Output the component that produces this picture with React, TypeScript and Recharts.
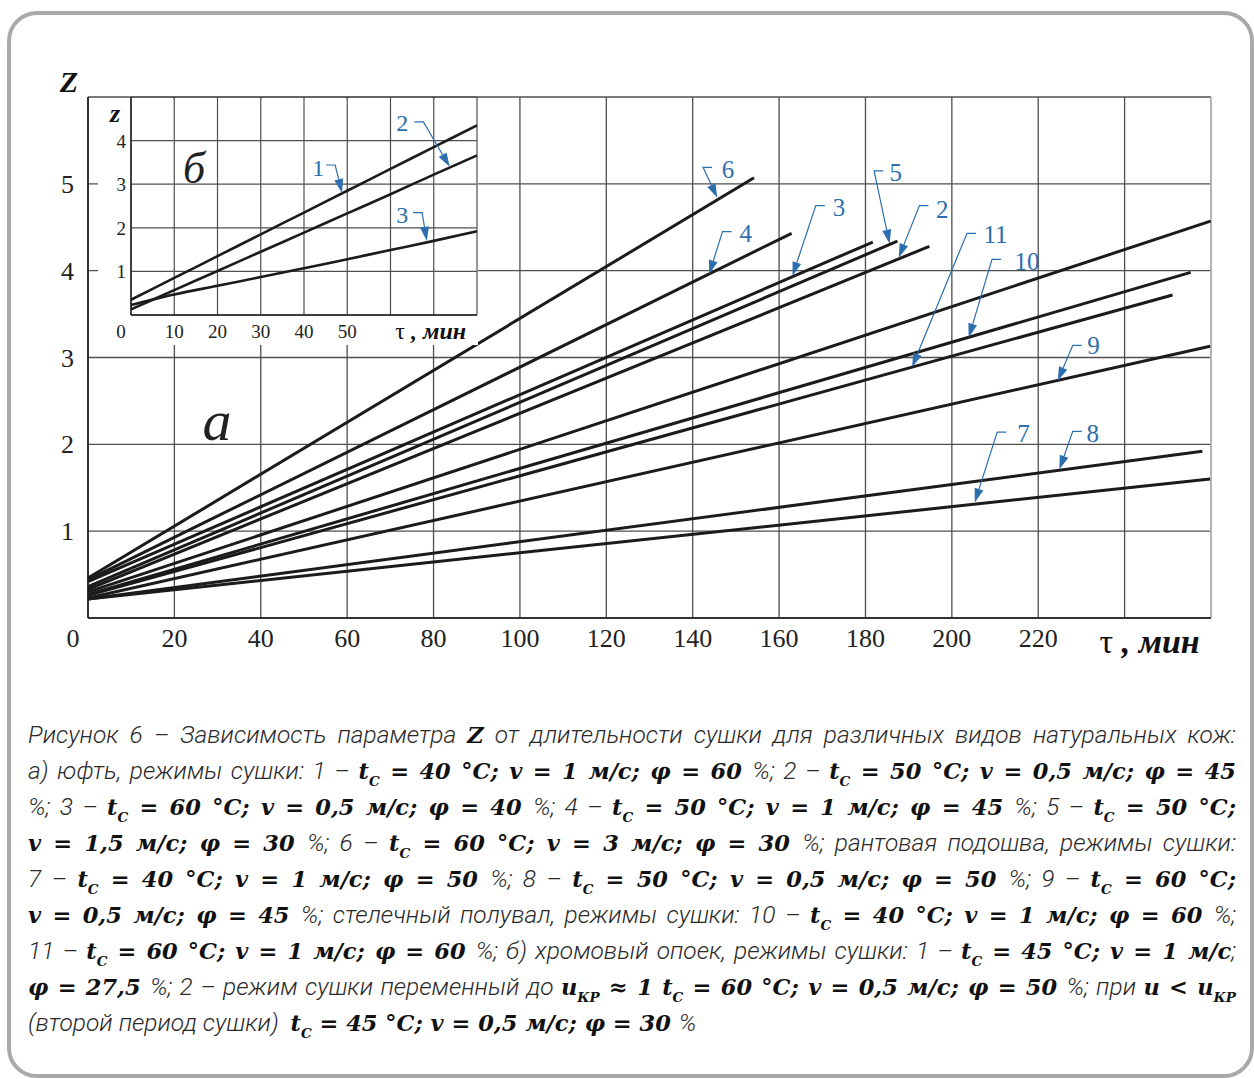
import React from 'react';
import {
  LineChart,
  Line,
  XAxis,
  YAxis,
  CartesianGrid,
  ReferenceLine,
  ReferenceDot,
} from 'recharts';

// main plot (а): drying modes 1..11, each a straight line from τ = 0
const mainNames = ['1', '2', '3', '4', '5', '6', '7', '8', '9', '10', '11'];
const mainStartZ = [0.3, 0.33, 0.42, 0.44, 0.36, 0.46, 0.22, 0.22, 0.23, 0.27, 0.26];
const mainEndTau = [259.9, 194.8, 181.7, 162.9, 187.4, 154.2, 259.8, 258.0, 259.8, 255.3, 251.1];
const mainEndZ = [4.57, 4.28, 4.33, 4.43, 4.34, 5.07, 1.6, 1.92, 3.13, 3.98, 3.72];

const mainTauTicks = [0, 20, 40, 60, 80, 100, 120, 140, 160, 180, 200, 220, 240, 260];
const mainZTicks = [0, 1, 2, 3, 4, 5, 6];

// callouts on the main plot
const mainLabels = ['6', '4', '3', '5', '2', '11', '10', '9', '7', '8'];
const mainLabelTau = [148.2, 152.3, 173.9, 187.0, 197.8, 210.1, 217.4, 232.8, 216.6, 232.6];
const mainLabelZ = [5.17, 4.43, 4.73, 5.13, 4.71, 4.42, 4.11, 3.14, 2.13, 2.13];
const mainHookTau = [142.4, 146.9, 168.5, 182.0, 192.5, 203.5, 209.3, 228.0, 210.5, 228.0];
const mainHookZ = [5.19, 4.45, 4.75, 5.15, 4.75, 4.43, 4.13, 3.14, 2.14, 2.15];
const mainTipTau = [145.7, 143.8, 163.1, 185.6, 187.7, 190.8, 203.9, 224.5, 205.3, 224.9];
const mainTipZ = [4.84, 3.96, 3.94, 4.31, 4.15, 2.89, 3.23, 2.73, 1.33, 1.71];

// inset (б): chrome calf
const insetTau = [0, 10, 20, 30, 40, 50, 60, 70, 80];
const inset1 = [0.35, 0.85, 1.35, 1.85, 2.35, 2.85, 3.35, 3.85, 4.35];
const inset2 = [0.13, 0.57, 1.01, 1.45, 1.89, 2.33, 2.77, 3.22, 3.66];
const inset3 = [0.23, 0.47, 0.67, 0.87, 1.07, 1.28, 1.49, 1.7, 1.92];
const insetTauTicks = [0, 10, 20, 30, 40, 50, 60, 70, 80];
const insetZTicks = [0, 1, 2, 3, 4, 5];

const insetLabels = ['1', '2', '3'];
const insetLabelTau = [43.3, 62.7, 62.7];
const insetLabelZ = [3.37, 4.4, 2.29];
const insetHookTau = [47.2, 67.6, 67.3];
const insetHookZ = [3.44, 4.43, 2.35];
const insetTipTau = [48.8, 73.7, 68.4];
const insetTipZ = [2.8, 3.4, 1.7];

const INK = '#1b1b1b';
const GRID = '#4f4f4f';
const BLUE = '#2d6eae';
const SERIF = "'Liberation Serif', 'Times New Roman', serif";

const mainLines = mainNames.map((name, i) => ({
  name,
  points: [
    { tau: 0, z: mainStartZ[i] },
    { tau: mainEndTau[i], z: mainEndZ[i] },
  ],
}));

const insetSeries = [inset1, inset2, inset3].map((vals) =>
  insetTau.map((tau, i) => ({ tau, z: vals[i] }))
);

const Leader = (p: any) => {
  const { x1, y1, x2, y2, dir } = p;
  const hx = x1 + dir * 9;
  const ang = Math.atan2(y2 - y1, x2 - x1);
  const len = 14;
  const half = 4.5;
  const bx = x2 - len * Math.cos(ang);
  const by = y2 - len * Math.sin(ang);
  const px = -Math.sin(ang) * half;
  const py = Math.cos(ang) * half;
  return (
    <g>
      <path d={`M${hx},${y1} L${x1},${y1} L${bx},${by}`} stroke={BLUE} strokeWidth={1.2} fill="none" />
      <polygon points={`${x2},${y2} ${bx + px},${by + py} ${bx - px},${by - py}`} fill={BLUE} />
    </g>
  );
};

const callouts = (
  labels: string[],
  lTau: number[],
  lZ: number[],
  hTau: number[],
  hZ: number[],
  tTau: number[],
  tZ: number[],
  size: number
) =>
  labels.flatMap((lab, i) => {
    const dir = lTau[i] > hTau[i] ? 1 : -1;
    return [
      <ReferenceLine
        key={'l' + lab}
        segment={[
          { x: hTau[i], y: hZ[i] },
          { x: tTau[i], y: tZ[i] },
        ]}
        shape={(p: any) => <Leader {...p} dir={dir} />}
      />,
      <ReferenceDot
        key={'t' + lab}
        x={lTau[i]}
        y={lZ[i]}
        r={0}
        shape={(p: any) => (
          <text x={p.cx} y={p.cy + size * 0.34} textAnchor="middle" fontFamily={SERIF} fontSize={size} fill={BLUE}>
            {lab}
          </text>
        )}
      />,
    ];
  });

const MainTauTick = ({ x, y, payload }: any) => {
  const v = payload.value;
  if (v === 260) return <g />;
  if (v === 240)
    return (
      <text x={x + 25} y={y + 35} textAnchor="middle" fontFamily={SERIF} fontSize={34} fill="#111">
        <tspan>τ</tspan>
        <tspan fontStyle="italic" fontWeight="bold"> , мин</tspan>
      </text>
    );
  return (
    <text x={v === 0 ? x - 15 : x} y={y + 29} textAnchor="middle" fontFamily={SERIF} fontSize={26} fill="#222">
      {v}
    </text>
  );
};

const MainZTick = ({ x, y, payload }: any) => {
  const v = payload.value;
  if (v === 0 || v === 6) return <g />;
  return (
    <text x={x - 14} y={y + 9} textAnchor="end" fontFamily={SERIF} fontSize={26} fill="#222">
      {v}
    </text>
  );
};

const InsetTauTick = ({ x, y, payload }: any) => {
  const v = payload.value;
  if (v === 60 || v === 80) return <g />;
  if (v === 70)
    return (
      <text x={x - 3} y={y + 24} textAnchor="middle" fontFamily={SERIF} fontSize={24} fill="#111">
        <tspan>τ</tspan>
        <tspan fontStyle="italic" fontWeight="bold"> , мин</tspan>
      </text>
    );
  return (
    <text x={v === 0 ? x - 10 : x} y={y + 23} textAnchor="middle" fontFamily={SERIF} fontSize={19} fill="#222">
      {v}
    </text>
  );
};

const InsetZTick = ({ x, y, payload }: any) => {
  const v = payload.value;
  if (v === 0 || v === 5) return <g />;
  return (
    <text x={x - 5} y={y + 7} textAnchor="end" fontFamily={SERIF} fontSize={19} fill="#222">
      {v}
    </text>
  );
};

const capMath: React.CSSProperties = {
  fontFamily: "'DejaVu Serif', serif",
  fontStyle: 'italic',
  fontWeight: 'bold',
  fontSize: 22.5,
  lineHeight: 1,
  color: '#111',
};
const M = ({ children }: any) => <span style={capMath}>{children}</span>;
const Sub = ({ children }: any) => (
  <span style={{ fontSize: '0.6em', position: 'relative', top: '0.5em', lineHeight: 1 }}>{children}</span>
);
const T = () => (
  <>
    t<Sub>C</Sub>
  </>
);

const captionLines = [
  <>
    Рисунок 6 – Зависимость параметра <M>Z</M> от длительности сушки для различных видов натуральных кож:
  </>,
  <>
    а) юфть, режимы сушки: 1 – <M><T /> = 40 °C; v = 1 м/с; φ = 60 </M>%; 2 – <M><T /> = 50 °C; v = 0,5 м/с; φ = 45</M>
  </>,
  <>
    %; 3 – <M><T /> = 60 °C; v = 0,5 м/с; φ = 40 </M>%; 4 – <M><T /> = 50 °C; v = 1 м/с; φ = 45 </M>%; 5 – <M><T /> = 50 °C;</M>
  </>,
  <>
    <M>v = 1,5 м/с; φ = 30 </M>%; 6 – <M><T /> = 60 °C; v = 3 м/с; φ = 30 </M>%; рантовая подошва, режимы сушки:
  </>,
  <>
    7 – <M><T /> = 40 °C; v = 1 м/с; φ = 50 </M>%; 8 – <M><T /> = 50 °C; v = 0,5 м/с; φ = 50 </M>%; 9 – <M><T /> = 60 °C;</M>
  </>,
  <>
    <M>v = 0,5 м/с; φ = 45 </M>%; стелечный полувал, режимы сушки: 10 – <M><T /> = 40 °C; v = 1 м/с; φ = 60 </M>%;
  </>,
  <>
    11 – <M><T /> = 60 °C; v = 1 м/с; φ = 60 </M>%; б) хромовый опоек, режимы сушки: 1 – <M><T /> = 45 °C; v = 1 м/с</M>;
  </>,
  <>
    <M>φ = 27,5 </M>%; 2 – режим сушки переменный до <M>u<Sub>КР</Sub> ≈ 1 <T /> = 60 °C; v = 0,5 м/с; φ = 50 </M>%; при <M>u &lt; u<Sub>КР</Sub></M>
  </>,
  <>
    (второй период сушки)&nbsp; <M><T /> = 45 °C; v = 0,5 м/с; φ = 30 </M>%
  </>,
];

export default function App() {
  return (
    <div style={{ position: 'absolute', left: 0, top: 0, width: 1254, height: 1079, overflow: 'hidden', background: '#fff' }}>
      {/* frame */}
      <div
        style={{
          position: 'absolute',
          left: 7,
          top: 11,
          width: 1239,
          height: 1059,
          border: '4px solid #a9a9a9',
          borderRadius: 30,
        }}
      />

      {/* main chart */}
      <div style={{ position: 'absolute', left: 0, top: 0, zIndex: 1 }}>
        <LineChart width={1254} height={700} margin={{ top: 97, right: 43, bottom: 42, left: 48 }}>
          <CartesianGrid stroke={GRID} strokeWidth={1.3} />
          <XAxis
            type="number"
            dataKey="tau"
            domain={[0, 260]}
            ticks={mainTauTicks}
            interval={0}
            height={40}
            tickSize={0}
            tickMargin={0}
            axisLine={{ stroke: INK, strokeWidth: 1.6 }}
            tick={(p: any) => <MainTauTick {...p} />}
          />
          <YAxis
            type="number"
            dataKey="z"
            domain={[0, 6]}
            ticks={mainZTicks}
            interval={0}
            width={40}
            tickSize={0}
            tickMargin={0}
            axisLine={{ stroke: INK, strokeWidth: 1.6 }}
            tick={(p: any) => <MainZTick {...p} />}
          />
          <ReferenceLine x={260} stroke="#b4b4b4" strokeWidth={2} />
          {mainLines.map((l) => (
            <Line
              key={l.name}
              name={l.name}
              data={l.points}
              dataKey="z"
              type="linear"
              stroke={INK}
              strokeWidth={3}
              dot={false}
              activeDot={false}
              isAnimationActive={false}
            />
          ))}
          {callouts(mainLabels, mainLabelTau, mainLabelZ, mainHookTau, mainHookZ, mainTipTau, mainTipZ, 25)}
        </LineChart>
      </div>

      {/* white background of the inset */}
      <div style={{ position: 'absolute', left: 98, top: 99, width: 380, height: 246, background: '#fff', zIndex: 2 }} />

      {/* inset chart */}
      <div style={{ position: 'absolute', left: 88, top: 87, zIndex: 3 }}>
        <LineChart width={410} height={270} margin={{ top: 10, right: 21, bottom: 12, left: 13 }}>
          <CartesianGrid stroke={GRID} strokeWidth={1.2} />
          <XAxis
            type="number"
            dataKey="tau"
            domain={[0, 80]}
            ticks={insetTauTicks}
            interval={0}
            height={30}
            tickSize={0}
            tickMargin={0}
            axisLine={{ stroke: INK, strokeWidth: 1.4 }}
            tick={(p: any) => <InsetTauTick {...p} />}
          />
          <YAxis
            type="number"
            dataKey="z"
            domain={[0, 5]}
            ticks={insetZTicks}
            interval={0}
            width={30}
            tickSize={0}
            tickMargin={0}
            axisLine={{ stroke: INK, strokeWidth: 1.4 }}
            tick={(p: any) => <InsetZTick {...p} />}
          />
          {insetSeries.map((pts, i) => (
            <Line
              key={'inset' + i}
              data={pts}
              dataKey="z"
              type="monotone"
              stroke={INK}
              strokeWidth={2.6}
              dot={false}
              activeDot={false}
              isAnimationActive={false}
            />
          ))}
          {callouts(insetLabels, insetLabelTau, insetLabelZ, insetHookTau, insetHookZ, insetTipTau, insetTipZ, 24)}
        </LineChart>
      </div>

      {/* axis names and panel letters */}
      <svg width={1254} height={700} style={{ position: 'absolute', left: 0, top: 0, zIndex: 4, pointerEvents: 'none' }}>
        <text x={69} y={92} textAnchor="middle" fontFamily={SERIF} fontSize={30} fontStyle="italic" fontWeight="bold" fill="#111">
          Z
        </text>
        <text x={115} y={122} textAnchor="middle" fontFamily={SERIF} fontSize={26} fontStyle="italic" fontWeight="bold" fill="#111">
          z
        </text>
        <text x={194} y={183} textAnchor="middle" fontFamily={SERIF} fontSize={44} fontStyle="italic" fill="#222">
          б
        </text>
        <text x={217} y={440} textAnchor="middle" fontFamily={SERIF} fontSize={58} fontStyle="italic" fill="#222">
          а
        </text>
      </svg>

      {/* caption */}
      <div
        style={{
          position: 'absolute',
          left: 28,
          top: 717,
          width: 1208,
          fontFamily: "Roboto, 'Noto Sans', sans-serif",
          fontStyle: 'italic',
          fontWeight: 300,
          fontSize: 24.5,
          lineHeight: '36px',
          color: '#2a2a2a',
        }}
      >
        {captionLines.map((ln, i) => (
          <div
            key={i}
            style={{
              height: 36,
              textAlign: i === captionLines.length - 1 ? 'left' : 'justify',
              textAlignLast: i === captionLines.length - 1 ? 'left' : 'justify',
              whiteSpace: 'nowrap',
            }}
          >
            {ln}
          </div>
        ))}
      </div>
    </div>
  );
}
